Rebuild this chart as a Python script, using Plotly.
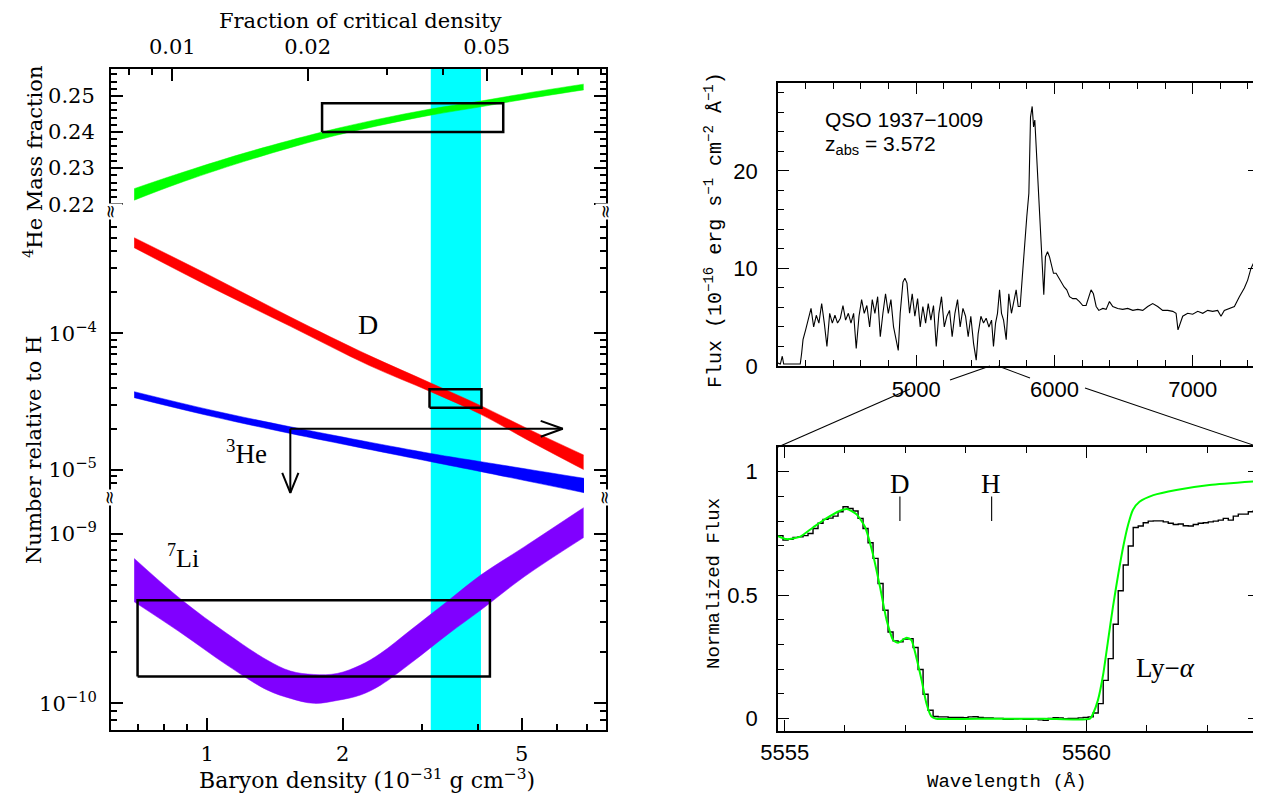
import numpy as np
import plotly.graph_objects as go

# The page body has an 8px margin; the figure is sized/offset so that
# the screenshot pixel coordinates below map directly.
OFF = 8
W, H = 1261 - OFF, 796 - OFF
def PX(x): return (x - OFF) / W
def PY(y): return 1 - (y - OFF) / H

# ---------------- layout geometry (screen pixels) ----------------
L_X0, L_X1 = 111, 606
L_TOP, L_BRK1, L_BRK2, L_BOT = 69, 211, 497, 730
R_X0, R_X1 = 778, 1259
RT_TOP, RT_BOT = 83, 366
RB_TOP, RB_BOT = 447, 731

# ---------------- DATA: left panel ----------------
rho_range = [0.611, 7.70]          # baryon density, 1e-31 g cm^-3
omega_per_rho = 1 / 83.6           # fraction of critical density per unit rho
he4_range = [0.2181, 0.2575]
dh_range = [6.34e-6, 7.85e-4]
li_range = [6.97e-11, 1.64e-9]

rho_he4 = [0.688, 0.856, 1.205, 1.800, 2.387, 3.138, 4.055, 5.241, 6.866]
he4_lo = [0.2211, 0.2256, 0.2318, 0.2381, 0.2417, 0.2447, 0.2470, 0.2494, 0.2517]
he4_hi = [0.2243, 0.2283, 0.2341, 0.2400, 0.2435, 0.2464, 0.2486, 0.2510, 0.2533]

rho_d = [0.688, 1.0155, 1.5306, 2.2877, 3.1384, 4.0553, 5.1522, 6.8661]
dh_hi = [5.007e-4, 2.640e-4, 1.316e-4, 6.896e-5, 4.329e-5, 2.955e-5, 2.006e-5, 1.287e-5]
dh_lo = [4.230e-4, 2.182e-4, 1.124e-4, 5.828e-5, 3.741e-5, 2.553e-5, 1.658e-5, 1.006e-5]

rho_he3 = [0.688, 1.016, 1.53, 3.14, 4.06, 6.88]
he3_hi = [3.74e-5, 2.75e-5, 2.07e-5, 1.32e-5, 1.15e-5, 8.69e-6]
he3_lo = [3.38e-5, 2.48e-5, 1.85e-5, 1.15e-5, 9.72e-6, 6.82e-6]

rho_li = [0.688, 0.878, 1.106, 1.358, 1.531, 1.725, 1.944, 2.192, 2.429, 2.832, 3.447, 4.055, 5.065, 6.866]
li_hi = [7.13e-10, 4.06e-10, 2.58e-10, 1.80e-10, 1.55e-10, 1.48e-10, 1.50e-10, 1.68e-10, 1.97e-10, 2.70e-10, 4.06e-10, 5.69e-10, 8.34e-10, 1.42e-9]
li_lo = [3.96e-10, 2.58e-10, 1.68e-10, 1.20e-10, 1.07e-10, 1.00e-10, 1.04e-10, 1.12e-10, 1.28e-10, 1.72e-10, 2.58e-10, 3.54e-10, 5.56e-10, 9.46e-10]

band_rho = [3.14, 4.06]                       # cyan allowed range
he4_box = dict(rho=[1.80, 4.55], val=[0.240, 0.248])
dh_box = dict(rho=[3.12, 4.07], val=[2.85e-5, 3.90e-5])
li_box = dict(rho=[0.70, 4.25], val=[1.44e-10, 4.05e-10])
he3_limit = dict(rho=[1.53, 6.17], val=2.0e-5, val_bot=6.8e-6)

x_ticks = [1, 2, 5]
x_minor = [0.7, 0.8, 0.9, 3, 4, 6, 7]
om_ticks = [0.01, 0.02, 0.05]
om_minor = [0.008, 0.009, 0.03, 0.04, 0.06, 0.07, 0.08, 0.09]
he4_ticks = [0.22, 0.23, 0.24, 0.25]
dh_ticks = [1e-5, 1e-4]
dh_ticktext = ['10<sup>\u22125</sup>', '10<sup>\u22124</sup>']
li_ticks = [1e-10, 1e-9]
li_ticktext = ['10<sup>\u221210</sup>', '10<sup>\u22129</sup>']

# ---------------- DATA: right top (spectrum) ----------------
spec_wl = [4000, 4017, 4031, 4041, 4072, 4108, 4145, 4161, 4171, 4181, 4200, 4219, 4239, 4258, 4277, 4296,
           4316, 4335, 4354, 4374, 4393, 4412, 4431, 4451, 4470, 4489, 4509, 4528, 4547, 4566, 4586, 4605,
           4624, 4643, 4663, 4682, 4701, 4721, 4740, 4759, 4778, 4798, 4817, 4836, 4856, 4870, 4884, 4904,
           4918, 4933, 4952, 4971, 4990, 5010, 5029, 5048, 5068, 5087, 5106, 5125, 5145, 5164, 5183, 5203,
           5222, 5241, 5260, 5280, 5299, 5318, 5338, 5357, 5376, 5395, 5415, 5434, 5448, 5468, 5487, 5506,
           5526, 5545, 5559, 5574, 5588, 5603, 5617, 5632, 5651, 5670, 5689, 5709, 5723, 5738, 5752, 5771,
           5786, 5800, 5815, 5827, 5839, 5849, 5858, 5873, 5887, 5901, 5916, 5923, 5935, 5950, 5964, 5979,
           5993, 6012, 6032, 6051, 6070, 6089, 6109, 6133, 6157, 6181, 6205, 6229, 6249, 6265, 6282, 6302,
           6321, 6350, 6374, 6398, 6422, 6458, 6494, 6530, 6567, 6603, 6639, 6675, 6711, 6747, 6783, 6820,
           6856, 6880, 6894, 6909, 6928, 6964, 7000, 7037, 7073, 7109, 7145, 7181, 7205, 7229, 7266, 7302,
           7338, 7374, 7398, 7422, 7439, 7453, 7470, 7482]
spec_fx = [0.3, 0.2, 1.0, 0.2, 0.2, 0.2, 0.15, 0.2, 1.3, 2.7, 3.7, 4.7, 5.9, 4.0, 5.2, 4.4,
           6.4, 4.4, 2.0, 5.4, 4.4, 5.2, 4.4, 4.9, 6.2, 4.7, 5.4, 4.4, 5.4, 1.8, 5.1, 6.8,
           5.4, 6.2, 4.0, 6.8, 5.4, 7.1, 3.0, 5.4, 7.4, 5.4, 6.8, 4.0, 2.7, 1.6, 5.4, 8.6,
           9.0, 8.5, 5.4, 7.4, 5.1, 6.9, 4.0, 6.1, 4.4, 6.4, 4.7, 6.2, 2.0, 5.4, 7.1, 4.0,
           5.1, 5.7, 3.0, 5.4, 6.8, 4.0, 5.9, 5.1, 3.0, 5.1, 2.3, 0.6, 3.3, 5.1, 4.4, 4.9,
           4.0, 4.7, 2.0, 4.4, 5.4, 7.8, 5.4, 4.7, 2.7, 7.4, 5.4, 6.8, 7.8, 6.1, 6.1, 9.8,
           13.2, 15.3, 17.7, 25.5, 26.6, 24.5, 25.2, 21.1, 16.7, 14.3, 9.5, 7.3, 11.2, 11.7, 11.2, 10.2,
           9.5, 9.5, 9.0, 8.5, 8.1, 7.8, 7.1, 6.9, 6.9, 6.6, 6.2, 6.2, 7.1, 7.8, 7.4, 6.1,
           5.7, 5.9, 5.8, 6.6, 6.1, 5.9, 5.8, 5.9, 5.7, 5.8, 5.7, 6.1, 6.4, 6.1, 5.7, 5.7,
           5.6, 5.4, 3.7, 4.4, 5.1, 5.4, 5.3, 5.6, 5.4, 5.7, 5.6, 5.7, 5.1, 5.7, 5.9, 6.1,
           7.1, 8.0, 8.8, 10.0, 10.5, 9.1, 6.8, 6.1]
spec_xrange = [4000, 7480]
spec_yrange = [0, 29]

# ---------------- DATA: right bottom (Ly-alpha profile) ----------------
bin_start, bin_width = 5554.89, 0.0829
norm_flux = [0.741, 0.723, 0.726, 0.734, 0.736, 0.741, 0.750, 0.770, 0.791, 0.807, 0.812, 0.820,
             0.838, 0.858, 0.851, 0.841, 0.811, 0.770, 0.712, 0.649, 0.547, 0.439, 0.351, 0.315,
             0.311, 0.322, 0.324, 0.288, 0.199, 0.099, 0.034, 0.009, 0.007, 0.007, 0.005, 0.005,
             0.005, 0.004, 0.007, 0.008, 0.005, 0.003, 0.003, 0.001, 0.001, -0.003, -0.003, -0.001,
             0.000, -0.003, -0.003, -0.001, -0.005, -0.007, 0.001, 0.004, 0.003, 0.000, 0.001, 0.001,
             0.003, 0.005, 0.007, 0.023, 0.061, 0.155, 0.243, 0.382, 0.518, 0.622, 0.699, 0.774,
             0.780, 0.793, 0.800, 0.801, 0.801, 0.797, 0.791, 0.786, 0.788, 0.781, 0.780, 0.786,
             0.791, 0.793, 0.797, 0.800, 0.804, 0.811, 0.804, 0.820, 0.828, 0.828, 0.838, 0.842, 0.851]
fit_wl = [5554.89, 5555.03, 5555.25, 5555.47, 5555.69, 5555.91, 5556.03, 5556.19, 5556.33, 5556.46,
          5556.58, 5556.69, 5556.80, 5556.88, 5557.02, 5557.10, 5557.18, 5557.27, 5557.35, 5557.43,
          5557.51, 5558.45, 5559.30, 5560.06, 5560.11, 5560.19, 5560.28, 5560.36, 5560.44, 5560.53,
          5560.61, 5560.69, 5560.77, 5560.88, 5561.11, 5561.49, 5562.04, 5562.87]
fit_fx = [0.739, 0.727, 0.736, 0.774, 0.811, 0.841, 0.849, 0.828, 0.777, 0.669,
          0.534, 0.399, 0.318, 0.307, 0.328, 0.318, 0.250, 0.155, 0.061, 0.009,
          0.000, 0.000, 0.000, 0.000, 0.020, 0.074, 0.182, 0.318, 0.453, 0.588,
          0.696, 0.784, 0.845, 0.878, 0.905, 0.926, 0.946, 0.962]
prof_xrange = [5554.89, 5562.86]
prof_yrange = [-0.05, 1.10]
line_marks = {'D': 5556.91, 'H': 5558.43}
line_mark_flux = [0.80, 0.90]

# ---------------- styles ----------------
GREEN, RED, BLUE, PURPLE, CYAN = '#00ff00', '#ff0000', '#0000ff', '#8000ff', '#00ffff'
LFONT = 'DejaVu Serif'
RSANS = 'Liberation Sans'
RMONO = 'Liberation Mono'
SERIF = 'Liberation Serif'

fig = go.Figure()

def band(x, lo, hi, color, yax):
    fig.add_trace(go.Scatter(x=x, y=lo, xaxis='x', yaxis=yax, mode='lines',
                             line=dict(width=0.5, color=color, shape='spline'),
                             hoverinfo='skip', showlegend=False))
    fig.add_trace(go.Scatter(x=x, y=hi, xaxis='x', yaxis=yax, mode='lines',
                             line=dict(width=0.5, color=color, shape='spline'),
                             fill='tonexty', fillcolor=color, hoverinfo='skip', showlegend=False))

def box(b, yax, width=2.5):
    x0, x1 = b['rho']; y0, y1 = b['val']
    fig.add_trace(go.Scatter(x=[x0, x1, x1, x0, x0], y=[y0, y0, y1, y1, y0], xaxis='x', yaxis=yax,
                             mode='lines', line=dict(color='black', width=width),
                             hoverinfo='skip', showlegend=False))

def seg(x, y, xax, yax, width=2, color='black'):
    fig.add_trace(go.Scatter(x=x, y=y, xaxis=xax, yaxis=yax, mode='lines',
                             line=dict(color=color, width=width), hoverinfo='skip', showlegend=False))

band(rho_he4, he4_lo, he4_hi, GREEN, 'y')
band(rho_d, dh_lo, dh_hi, RED, 'y2')
band(rho_he3, he3_lo, he3_hi, BLUE, 'y2')
band(rho_li, li_lo, li_hi, PURPLE, 'y3')
box(he4_box, 'y')
box(dh_box, 'y2')
box(li_box, 'y3')

# 3He upper-limit arrows
ax0, ax1 = he3_limit['rho']; ay, aybot = he3_limit['val'], he3_limit['val_bot']
hx, hy = 10 ** 0.049, 10 ** 0.058      # arrow-head size (log units)
seg([ax0, ax1], [ay, ay], 'x', 'y2')
seg([ax1 / hx, ax1, ax1 / hx], [ay * hy, ay, ay / hy], 'x', 'y2')
seg([ax0, ax0], [ay, aybot], 'x', 'y2')
vx, vy = 10 ** 0.018, 10 ** 0.146
seg([ax0 / vx, ax0, ax0 * vx], [aybot * vy, aybot, aybot * vy], 'x', 'y2')

# dummy to realise the top (Omega) axis
fig.add_trace(go.Scatter(x=[0.02], y=[0.23], xaxis='x2', yaxis='y', mode='markers',
                         marker=dict(opacity=0), hoverinfo='skip', showlegend=False))

# right top spectrum
seg(spec_wl, spec_fx, 'x3', 'y4', width=1.1)

# right bottom: histogram + fit
edges = [bin_start + bin_width * k for k in range(len(norm_flux) + 1)]
fig.add_trace(go.Scatter(x=edges, y=norm_flux + [norm_flux[-1]], xaxis='x4', yaxis='y5', mode='lines',
                         line=dict(color='black', width=1.4, shape='hv'), hoverinfo='skip', showlegend=False))
fig.add_trace(go.Scatter(x=fit_wl, y=fit_fx, xaxis='x4', yaxis='y5', mode='lines',
                         line=dict(color=GREEN, width=2, shape='spline', smoothing=0.6),
                         hoverinfo='skip', showlegend=False))
for name, wl in line_marks.items():
    seg([wl, wl], line_mark_flux, 'x4', 'y5', width=1.1)

# cyan band (data x, paper y)
fig.add_shape(type='rect', xref='x', yref='paper', x0=band_rho[0], x1=band_rho[1],
              y0=PY(L_BOT), y1=PY(L_TOP), fillcolor=CYAN, line_width=0, layer='below')

# ---------------- axes ----------------
lax = dict(showline=True, linecolor='black', linewidth=2, ticks='inside', tickcolor='black',
           tickwidth=2, showgrid=False, zeroline=False, automargin=False,
           tickfont=dict(family=LFONT, size=21, color='black'))
def lminor(vals, length=6):
    return dict(tickmode='array', tickvals=vals, ticks='inside', ticklen=length, tickwidth=2,
                tickcolor='black', showgrid=False)

xdom = [PX(L_X0), PX(L_X1)]
layout_axes = dict(
    xaxis=dict(type='log', range=[np.log10(rho_range[0]), np.log10(rho_range[1])], domain=xdom,
               anchor='y3', tickmode='array', tickvals=x_ticks, ticktext=[str(v) for v in x_ticks],
               ticklen=12, minor=lminor(x_minor), ticklabelstandoff=4, **lax),
    xaxis2=dict(type='log', range=[np.log10(rho_range[0] * omega_per_rho), np.log10(rho_range[1] * omega_per_rho)],
                domain=xdom, overlaying='x', anchor='y', side='top', tickmode='array', tickvals=om_ticks,
                ticktext=['0.01', '0.02', '0.05'], ticklen=12, minor=lminor(om_minor), ticklabelstandoff=5, **lax),
    yaxis=dict(range=he4_range, domain=[PY(L_BRK1), PY(L_TOP)], anchor='x', mirror='ticks',
               tickmode='array', tickvals=he4_ticks, ticktext=['0.22', '0.23', '0.24', '0.25'], ticklen=12,
               minor=dict(dtick=0.002, tick0=0.22, ticks='inside', ticklen=6, tickwidth=2, tickcolor='black'),
               ticklabelstandoff=10, **lax),
    yaxis2=dict(type='log', range=[np.log10(dh_range[0]), np.log10(dh_range[1])],
                domain=[PY(L_BRK2), PY(L_BRK1)], anchor='x', mirror='ticks', tickmode='array',
                tickvals=dh_ticks, ticktext=dh_ticktext, ticklen=12,
                minor=lminor([7e-6, 8e-6, 9e-6] + [k * 1e-5 for k in range(2, 10)] + [k * 1e-4 for k in range(2, 8)]),
                ticklabelstandoff=8, **lax),
    yaxis3=dict(type='log', range=[np.log10(li_range[0]), np.log10(li_range[1])],
                domain=[PY(L_BOT), PY(L_BRK2)], anchor='x', mirror='ticks', tickmode='array',
                tickvals=li_ticks, ticktext=li_ticktext, ticklen=12,
                minor=lminor([7e-11, 8e-11, 9e-11] + [k * 1e-10 for k in range(2, 10)]),
                ticklabelstandoff=8, **lax),
)

rax = dict(showline=True, linecolor='black', linewidth=1.5, ticks='inside', tickcolor='black',
           tickwidth=1.2, showgrid=False, zeroline=False, mirror='ticks', automargin=False,
           tickfont=dict(family=RSANS, size=22, color='black'))
rxdom = [PX(R_X0), PX(R_X1)]
layout_axes.update(
    xaxis3=dict(range=spec_xrange, domain=rxdom, anchor='y4', tickmode='array', tickvals=[5000, 6000, 7000],
                ticklen=11, minor=dict(dtick=200, tick0=4000, ticks='inside', ticklen=6.5, tickwidth=1.2, tickcolor='black'),
                ticklabelstandoff=3, **rax),
    yaxis4=dict(range=spec_yrange, domain=[PY(RT_BOT), PY(RT_TOP)], anchor='x3', tickmode='array',
                tickvals=[0, 10, 20], ticklen=11,
                minor=dict(dtick=2, tick0=0, ticks='inside', ticklen=6.5, tickwidth=1.2, tickcolor='black'),
                ticklabelstandoff=14, **rax),
    xaxis4=dict(range=prof_xrange, domain=rxdom, anchor='y5', tickmode='array', tickvals=[5555, 5560],
                ticklen=11, minor=dict(dtick=1, tick0=5555, ticks='inside', ticklen=6.5, tickwidth=1.2, tickcolor='black'),
                ticklabelstandoff=1, **rax),
    yaxis5=dict(range=prof_yrange, domain=[PY(RB_BOT), PY(RB_TOP)], anchor='x4', tickmode='array',
                tickvals=[0, 0.5, 1], ticktext=['0', '0.5', '1'], ticklen=11,
                minor=dict(dtick=0.1, tick0=0, ticks='inside', ticklen=6.5, tickwidth=1.2, tickcolor='black'),
                ticklabelstandoff=14, **rax),
)

# ---------------- annotations ----------------
ann = []
def text(x, y, s, family, size, angle=0, **kw):
    d = dict(x=PX(x), y=PY(y), xref='paper', yref='paper', text=s, showarrow=False, textangle=angle,
             font=dict(family=family, size=size, color='black'), xanchor='center', yanchor='middle')
    d.update(kw)
    ann.append(d)

text(360, 21, 'Fraction of critical density', LFONT, 21, borderpad=0)
text(367, 779, 'Baryon density (10<sup>\u221231</sup> g cm<sup>\u22123</sup>)', LFONT, 22)
text(33, 162, '<sup>4</sup>He Mass fraction', LFONT, 21, angle=-90)
text(34, 450, 'Number relative to H', LFONT, 21, angle=-90)
text(368, 324, 'D', SERIF, 28)
text(246, 452, '<sup>3</sup>He', SERIF, 27)
text(183, 556, '<sup>7</sup>Li', SERIF, 26)
for bx in (L_X0, L_X1):
    for by in (L_BRK1, L_BRK2):
        text(bx, by, '\u2248', LFONT, 18, angle=90, bgcolor='white', borderpad=0)

text(714, 230, 'Flux (10<sup>\u221216</sup> erg s<sup>\u22121</sup> cm<sup>\u22122</sup> \u00c5<sup>\u22121</sup>)', RMONO, 20, angle=-90)
text(714, 584, 'Normalized Flux', RMONO, 19, angle=-90)
text(1007, 782, 'Wavelength (\u00c5)', RMONO, 19)
text(823, 120, 'QSO 1937\u22121009', RSANS, 21, xanchor='left')
text(823, 145, 'z<sub>abs</sub> = 3.572', RSANS, 21, xanchor='left')
text(900, 484, 'D', SERIF, 27)
text(991, 484, 'H', SERIF, 27)
text(1165, 668, 'Ly\u2212<i>\u03b1</i>', SERIF, 27)

# zoom connector lines (paper coords)
for (xa, ya, xb, yb) in [(990, 366, 950, 380), (910, 389, R_X0, RB_TOP),
                         (998, 366, 1030, 378), (1085, 388, R_X1, RB_TOP)]:
    fig.add_shape(type='line', xref='paper', yref='paper', x0=PX(xa), y0=PY(ya), x1=PX(xb), y1=PY(yb),
                  line=dict(color='black', width=1.1))

fig.update_layout(width=W, height=H, margin=dict(l=0, r=0, t=0, b=0, autoexpand=False), paper_bgcolor='white',
                  plot_bgcolor='white', showlegend=False, annotations=ann, **layout_axes)

fig.write_html('out.html')
